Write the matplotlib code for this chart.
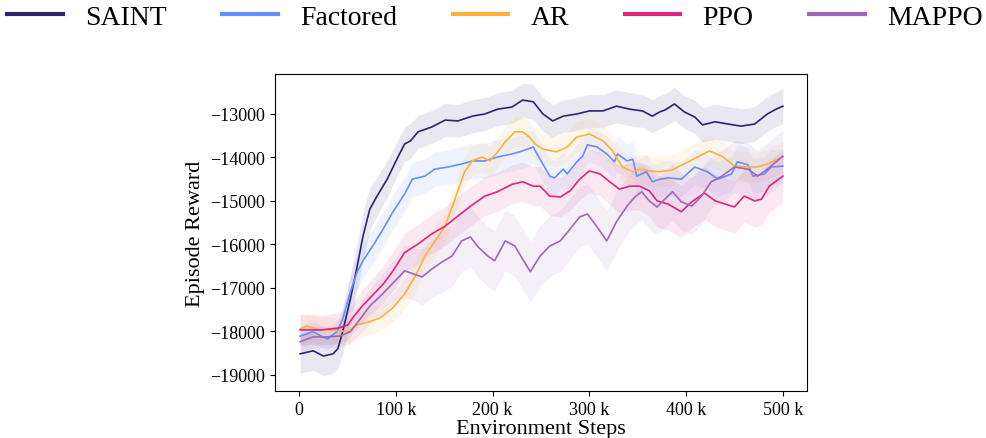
import numpy as np
import matplotlib
matplotlib.use('Agg')
import matplotlib.pyplot as plt
from matplotlib import ticker

plt.rcParams['font.family'] = ['Liberation Serif', 'DejaVu Serif']
plt.rcParams['mathtext.fontset'] = 'stix'

# environment steps (thousands), mean episode reward, band half-width
saint_k = [1, 14.5, 25, 35, 40, 45, 53, 60, 66, 73,
           80.5, 91, 101, 109, 115, 123, 137, 151, 164, 179,
           192, 205, 220, 231, 242, 252, 262, 273, 287, 300,
           314, 328, 342, 355, 365, 373, 378, 388, 398, 409,
           417, 430, 443, 457, 471, 484, 493, 500]
saint = [-18520, -18450, -18570, -18520, -18400, -18010, -17250, -16500, -15810, -15190,
         -14890, -14500, -14040, -13690, -13620, -13410, -13300, -13140, -13160, -13050,
         -13000, -12890, -12840, -12680, -12720, -13000, -13160, -13050, -13000, -12930,
         -12930, -12820, -12890, -12930, -13050, -12950, -12910, -12770, -12950, -13070,
         -13250, -13180, -13230, -13280, -13230, -13000, -12890, -12820]
saint_sd = [450, 450, 450, 450, 460, 500, 550, 550, 550, 500,
            450, 420, 400, 400, 400, 380, 380, 380, 380, 380,
            380, 380, 380, 390, 400, 400, 380, 380, 380, 380,
            380, 380, 380, 380, 380, 380, 380, 380, 380, 380,
            400, 400, 400, 400, 400, 400, 400, 400]

factored_k = [1, 14.5, 29, 39, 45, 53, 60, 66, 76, 87,
              97, 109, 117, 130, 140, 154, 168, 179, 192, 205,
              220, 231, 242, 249, 259, 264, 273, 277, 287, 293,
              298, 308, 318, 326, 329, 339, 345, 349, 359, 365,
              373, 381, 395, 409, 422, 433, 447, 453, 464, 469,
              481, 488, 500]
factored = [-18110, -18010, -18180, -18010, -17720, -17090, -16630, -16380, -16040, -15640,
            -15250, -14840, -14500, -14430, -14270, -14220, -14150, -14080, -14080, -13990,
            -13920, -13850, -13760, -14040, -14430, -14470, -14270, -14380, -14100, -13970,
            -13710, -13760, -13920, -14100, -13920, -14080, -14040, -14430, -14330, -14560,
            -14500, -14470, -14500, -14220, -14330, -14500, -14380, -14100, -14170, -14430,
            -14380, -14220, -14200]
factored_sd = [250, 250, 250, 250, 300, 350, 400, 400, 400, 400,
               400, 400, 400, 400, 400, 400, 400, 400, 400, 400,
               400, 400, 400, 400, 400, 400, 400, 400, 400, 400,
               400, 400, 400, 400, 400, 400, 400, 400, 400, 400,
               400, 400, 400, 400, 400, 400, 400, 400, 400, 400,
               400, 400, 400]

ar_k = [1, 8, 22, 35, 50, 60, 73, 84, 97, 109,
        120, 130, 140, 151, 161, 171, 179, 189, 197, 205,
        213, 223, 231, 238, 244, 252, 266, 277, 287, 300,
        314, 324, 334, 345, 352, 362, 373, 385, 398, 412,
        424, 437, 450, 464, 474, 484, 500]
ar = [-17950, -17880, -17970, -17970, -18010, -17850, -17780, -17690, -17460, -17140,
      -16730, -16270, -15940, -15580, -14960, -14330, -14080, -13990, -14080, -13880,
      -13640, -13410, -13410, -13530, -13690, -13810, -13870, -13760, -13530, -13460,
      -13620, -13850, -14220, -14330, -14270, -14310, -14330, -14290, -14150, -13990,
      -13850, -13970, -14200, -14220, -14220, -14150, -13990]
ar_sd = [300, 300, 300, 300, 300, 300, 300, 300, 320, 350,
         350, 350, 350, 350, 350, 350, 350, 350, 350, 350,
         350, 350, 350, 350, 350, 350, 350, 350, 350, 350,
         350, 350, 350, 350, 350, 350, 350, 350, 350, 350,
         350, 350, 350, 350, 350, 350, 350]

ppo_k = [1, 22, 40, 50, 56, 66, 76, 87, 97, 109,
         123, 137, 151, 164, 179, 192, 205, 220, 231, 242,
         249, 259, 270, 280, 290, 300, 311, 321, 331, 342,
         352, 362, 370, 381, 395, 406, 419, 430, 440, 450,
         460, 471, 478, 486, 500]
ppo = [-17970, -17970, -17930, -17860, -17670, -17400, -17170, -16910, -16610, -16190,
       -15990, -15760, -15580, -15350, -15090, -14890, -14790, -14620, -14560, -14660,
       -14660, -14890, -14910, -14770, -14500, -14310, -14380, -14560, -14730, -14660,
       -14660, -14770, -15000, -15070, -15250, -15020, -14820, -15000, -15070, -15140,
       -14890, -15000, -14960, -14660, -14430]
ppo_sd = [350, 350, 350, 350, 350, 380, 400, 420, 450, 450,
          450, 450, 450, 450, 450, 450, 450, 450, 450, 450,
          450, 450, 450, 450, 480, 500, 500, 520, 550, 550,
          550, 580, 600, 600, 600, 600, 600, 600, 600, 600,
          600, 600, 600, 600, 600]

mappo_k = [1, 14.5, 29, 42, 53, 63, 73, 84, 94, 104,
           109, 118, 127, 137, 148, 158, 168, 177, 185, 195,
           202, 213, 223, 231, 239, 249, 259, 270, 280, 290,
           298, 308, 318, 328, 339, 347, 354, 362, 370, 378,
           386, 395, 406, 416, 426, 437, 450, 464, 474, 484,
           500]
mappo = [-18240, -18130, -18130, -18110, -18010, -17720, -17420, -17190, -16960, -16730,
         -16610, -16680, -16750, -16570, -16400, -16270, -15920, -15830, -16060, -16270,
         -16380, -15920, -16040, -16340, -16630, -16270, -16040, -15920, -15650, -15370,
         -15300, -15600, -15920, -15480, -15120, -14910, -14790, -15000, -15140, -14960,
         -14790, -15020, -15120, -14890, -14560, -14430, -14220, -14270, -14430, -14270,
         -13970]
mappo_sd = [250, 250, 250, 250, 280, 350, 400, 450, 500, 550,
            600, 600, 650, 650, 700, 700, 700, 700, 700, 700,
            700, 700, 700, 700, 700, 700, 700, 700, 700, 700,
            700, 700, 700, 700, 650, 650, 650, 650, 650, 650,
            650, 650, 650, 650, 600, 600, 600, 600, 600, 600,
            600]

names = ['SAINT', 'Factored', 'AR', 'PPO', 'MAPPO']
colors = ['#2e2373', '#648FFF', '#FFB03B', '#DC267F', '#A066BA']
series = [(saint_k, saint, saint_sd), (factored_k, factored, factored_sd),
          (ar_k, ar, ar_sd), (ppo_k, ppo, ppo_sd), (mappo_k, mappo, mappo_sd)]

fig = plt.figure(figsize=(9.86, 4.39), dpi=100)
ax = fig.add_axes([275 / 986, 47 / 439, 532 / 986, 317 / 439])

for name, c, (k, m, sd) in zip(names, colors, series):
    x = np.array(k) * 1000
    m = np.array(m)
    sd = np.array(sd)
    ax.fill_between(x, m - sd, m + sd, color=c, alpha=0.1, lw=0)
    ax.plot(x, m, color=c, lw=1.2, label=name)

ax.set_xlim(-25000, 525000)
ax.set_ylim(-19375, -12080)
ax.set_xticks([0, 100000, 200000, 300000, 400000, 500000])
ax.set_yticks([-19000, -18000, -17000, -16000, -15000, -14000, -13000])
ax.xaxis.set_major_formatter(ticker.EngFormatter(places=0))
ax.tick_params(labelsize=13)
ax.set_xlabel('Environment Steps', fontsize=16, labelpad=1)
ax.set_ylabel('Episode Reward', fontsize=16)

leg = fig.legend(loc='upper center', bbox_to_anchor=(0.502, 1.045), ncol=5,
                 frameon=False, fontsize=20)
for h in leg.legend_handles:
    h.set_linewidth(3)

fig.savefig('out.png', dpi=100)
